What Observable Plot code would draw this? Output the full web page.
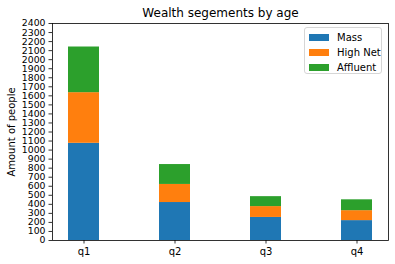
<!DOCTYPE html>
<html>
<head>
<meta charset="utf-8">
<script src="https://cdn.jsdelivr.net/npm/d3@7"></script>
<script src="https://cdn.jsdelivr.net/npm/@observablehq/plot@0.6"></script>
<style>
  html, body { margin: 0; padding: 0; background: #fff; }
  #chart { position: relative; width: 395px; height: 264px; font-family: "DejaVu Sans", sans-serif; }
  .legend { position: absolute; left: 304px; top: 27px; width: 78px; height: 47px; box-sizing: border-box;
    border: 1px solid #d6d6d6; border-radius: 3px; background: rgba(255,255,255,0.8); font-size: 10px; color: #000; }
  .legend .row { position: absolute; left: 4px; height: 12px; display: flex; align-items: center; }
  .legend .sw { width: 20px; height: 7px; margin-right: 8px; }
</style>
</head>
<body>
<div id="chart"></div>
<script>
// Age groups along the x axis
const groups = ["q1", "q2", "q3", "q4"];
// Wealth segments, stacked bottom to top
const segments = ["Mass", "High Net", "Affluent"];
const segmentColors = ["#1f77b4", "#ff7f0e", "#2ca02c"];
// People per segment in each age group
const mass = [1075, 420, 255, 220];
const highNet = [560, 200, 120, 110];
const affluent = [505, 220, 110, 120];
const yTicks = d3.range(0, 2401, 100);
const title = "Wealth segements by age";
const yLabel = "Amount of people";

const series = [mass, highNet, affluent];
const rows = [];
segments.forEach((s, k) => groups.forEach((g, i) => rows.push({group: g, segment: s, value: series[k][i]})));

const chart = Plot.plot({
  width: 395,
  height: 264,
  marginLeft: 52,
  marginRight: 7,
  marginTop: 23,
  marginBottom: 24,
  style: {fontFamily: "DejaVu Sans, sans-serif", fontSize: "10px", color: "#000", background: "#fff"},
  x: {domain: groups, paddingInner: 0.66, paddingOuter: 0.1725, align: 0.5, axis: null},
  y: {domain: [0, 2400], axis: null},
  color: {domain: segments, range: segmentColors},
  marks: [
    Plot.barY(rows, {x: "group", y: "value", fill: "segment", inset: 0}),
    Plot.axisY({ticks: yTicks, tickSize: 3.5, tickPadding: 3.5, tickFormat: d => String(d), label: null, fontSize: 9.3, stroke: "#000", strokeWidth: 0.8}),
    Plot.axisX({tickSize: 3.5, tickPadding: 3.5, label: null, fontSize: 10, stroke: "#000", strokeWidth: 0.8}),
    Plot.frame({stroke: "#000", strokeWidth: 0.8}),
    Plot.text([title], {frameAnchor: "top", dy: -10, lineAnchor: "middle", fontSize: 12, fill: "#000"}),
    Plot.text([yLabel], {frameAnchor: "left", dx: -41, rotate: -90, textAnchor: "middle", lineAnchor: "middle", fontSize: 10, fill: "#000"})
  ]
});
const root = document.getElementById("chart");
root.appendChild(chart);

const legend = document.createElement("div");
legend.className = "legend";
segments.forEach((s, k) => {
  const row = document.createElement("div");
  row.className = "row";
  row.style.top = (3 + k * 15) + "px";
  const sw = document.createElement("div");
  sw.className = "sw";
  sw.style.background = segmentColors[k];
  const tx = document.createElement("span");
  tx.textContent = s;
  row.appendChild(sw);
  row.appendChild(tx);
  legend.appendChild(row);
});
root.appendChild(legend);
</script>
</body>
</html>
